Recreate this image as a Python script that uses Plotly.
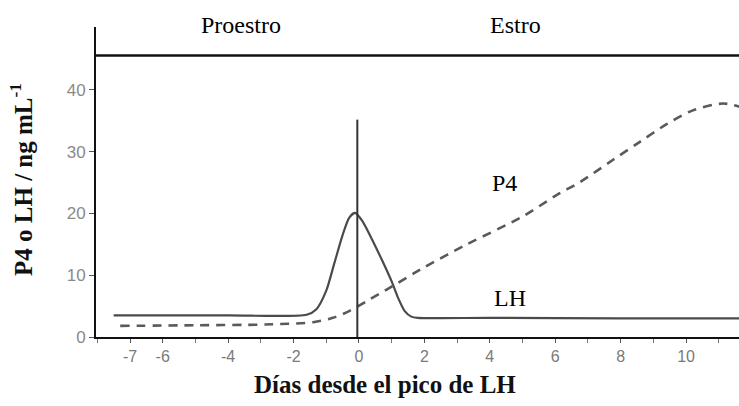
import plotly.graph_objects as go

# Data
lh_x = [-7.5, -4.0, -1.6, -1.3, -1.0, -0.75, -0.5, -0.3, -0.12, 0.1, 0.4, 0.7, 1.0, 1.2, 1.4, 1.6, 1.8, 4.0, 8.0, 11.62]
lh_y = [3.5, 3.5, 3.6, 4.5, 7.5, 12.0, 16.5, 19.3, 20.1, 18.8, 15.8, 12.5, 9.0, 6.3, 4.2, 3.3, 3.1, 3.1, 3.0, 3.0]

p4_x = [-7.3, -5.0, -3.0, -2.4, -1.4, -0.8, -0.3, 0.3, 0.86, 1.9, 3.3, 5.0, 6.05, 6.76, 7.77, 8.59, 9.42, 10.21, 11.13, 11.62]
p4_y = [1.8, 1.9, 2.0, 2.1, 2.4, 3.1, 4.2, 6.0, 7.7, 11.0, 15.0, 19.5, 23.0, 25.1, 28.7, 31.6, 34.5, 36.7, 37.8, 37.3]

x_tickvals = [-7, -6, -4, -2, 0, 2, 4, 6, 8, 10]
x_ticktext = ["-7", "-6", "-4", "-2", "0", "2", "4", "6", "8", "10"]
y_tickvals = [0, 10, 20, 30, 40]

peak_day = -0.05
peak_marker_top = 35.2
phase_line_y = 45.6

phase_labels = ["Proestro", "Estro"]
phase_label_x = [-3.6, 4.8]
series_labels = ["P4", "LH"]
series_label_x = [4.46, 4.62]
series_label_y = [25.0, 6.3]

x_range = [-8.04, 11.62]
y_range = [0, 50.2]

serif = "Liberation Serif, Times New Roman, serif"
sans = "Liberation Sans, Arial, sans-serif"

fig = go.Figure()
fig.add_trace(go.Scatter(x=lh_x, y=lh_y, mode="lines",
                         line=dict(color="#4a4a4a", width=2.2, shape="spline", smoothing=0.7),
                         showlegend=False, hoverinfo="skip"))
fig.add_trace(go.Scatter(x=p4_x, y=p4_y, mode="lines",
                         line=dict(color="#555b60", width=2.6, dash="9px,7px", shape="spline", smoothing=0.9),
                         showlegend=False, hoverinfo="skip"))

# vertical line at LH peak
fig.add_shape(type="line", x0=peak_day, x1=peak_day, y0=0, y1=peak_marker_top,
              xref="x", yref="y", line=dict(color="#333333", width=2))
# phase horizontal line
fig.add_shape(type="line", x0=x_range[0], x1=x_range[1], y0=phase_line_y, y1=phase_line_y,
              xref="x", yref="y", line=dict(color="#111111", width=2.5))

for t, xv in zip(phase_labels, phase_label_x):
    fig.add_annotation(x=xv, y=(337 - 25) / 310, xref="x", yref="paper", text=t, showarrow=False,
                       yanchor="middle", xanchor="center",
                       font=dict(family=serif, size=24, color="#000000"))
for t, xv, yv in zip(series_labels, series_label_x, series_label_y):
    fig.add_annotation(x=xv, y=yv, xref="x", yref="y", text=t, showarrow=False,
                       yanchor="middle", xanchor="center",
                       font=dict(family=serif, size=24, color="#000000"))

# axis titles
fig.add_annotation(x=(21 - 96) / 643, y=(337 - 180) / 310, xref="paper", yref="paper",
                   text="<b>P4 o LH / ng mL<sup>-1</sup></b>", textangle=-90, showarrow=False,
                   xanchor="center", yanchor="middle",
                   font=dict(family=serif, size=25, color="#111111"))
fig.add_annotation(x=(385 - 96) / 643, y=-(384 - 337) / 310, xref="paper", yref="paper",
                   text="<b>Días desde el pico de LH</b>", showarrow=False,
                   xanchor="center", yanchor="middle",
                   font=dict(family=serif, size=25, color="#111111"))

fig.update_xaxes(range=x_range, showline=True, linecolor="#111111", linewidth=2,
                 tickvals=x_tickvals, ticktext=x_ticktext, ticks="outside", ticklen=4,
                 tickcolor="#555555", tickwidth=1,
                 minor=dict(dtick=1, tick0=0, ticks="outside", ticklen=4, tickcolor="#777777"),
                 tickfont=dict(family=sans, size=16, color="#7a7a7a"),
                 showgrid=False, zeroline=False)
fig.update_yaxes(range=y_range, showline=True, linecolor="#111111", linewidth=2,
                 tickvals=y_tickvals, ticks="outside", ticklen=5, tickcolor="#555555",
                 tickfont=dict(family=sans, size=17, color="#8a8a8a"),
                 showgrid=False, zeroline=False)

fig.update_layout(width=739, height=406, margin=dict(l=96, r=0, t=27, b=69),
                  plot_bgcolor="white", paper_bgcolor="white")

fig.write_html("out.html")
